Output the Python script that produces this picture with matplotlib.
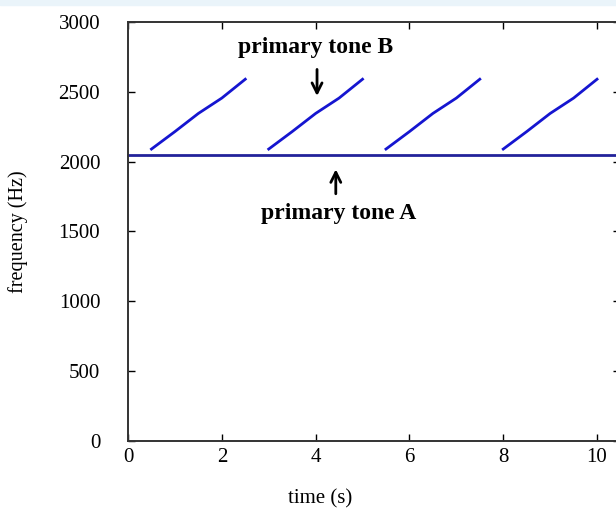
import matplotlib.pyplot as plt
from matplotlib.patches import Rectangle

plt.rcParams['font.family'] = ['Liberation Serif', 'DejaVu Serif']

# primary tone B: repeated upward sweeps
sweep_starts = [0.5, 3.0, 5.5, 8.0]
sweep_offsets = [0.0, 0.5, 1.0, 1.5, 2.0]
sweep_freqs = [2090, 2215, 2345, 2455, 2590]

# primary tone A: constant tone
tone_a_time = [0, 10.5]
tone_a_freq = [2050, 2050]

xticks = [0, 2, 4, 6, 8, 10]
yticks = [0, 500, 1000, 1500, 2000, 2500, 3000]

fig = plt.figure(figsize=(6.16, 5.13), dpi=100)
fig.patches.append(Rectangle((0, 0.99), 1, 0.01, transform=fig.transFigure,
                             color='#eaf4fa', zorder=0))
ax = fig.add_axes([0.2078, 0.1404, 0.7995, 0.8168])

ax.plot(tone_a_time, tone_a_freq, color='#22229a', lw=2, clip_on=False)
for s in sweep_starts:
    ax.plot([s + o for o in sweep_offsets], sweep_freqs, color='#1515d0', lw=2)

ax.set_xlim(0, 10.5)
ax.set_ylim(0, 3000)
ax.set_xticks(xticks)
ax.set_yticks(yticks)
ax.tick_params(direction='in', length=5, width=1, top=True, right=True,
               labelsize=15)
ax.tick_params(axis='y', pad=20)
ax.tick_params(axis='x', pad=5)
for sp in ax.spines.values():
    sp.set_linewidth(1.4)
    sp.set_color('#333333')

ax.set_xlabel('time (s)', fontsize=15)
ax.xaxis.set_label_coords(0.39, -0.115)
ax.set_ylabel('frequency (Hz)', fontsize=14.5, labelpad=22)

ax.annotate('', xy=(4.03, 2450), xytext=(4.03, 2680),
            arrowprops=dict(arrowstyle='->', lw=2, color='black', mutation_scale=18))
ax.text(3.99, 2820, 'primary tone B', ha='center', va='center',
        fontsize=17, fontweight='bold')
ax.annotate('', xy=(4.43, 1965), xytext=(4.43, 1750),
            arrowprops=dict(arrowstyle='->', lw=2, color='black', mutation_scale=18))
ax.text(4.48, 1630, 'primary tone A', ha='center', va='center',
        fontsize=17, fontweight='bold')

fig.savefig('out.png', dpi=100)
